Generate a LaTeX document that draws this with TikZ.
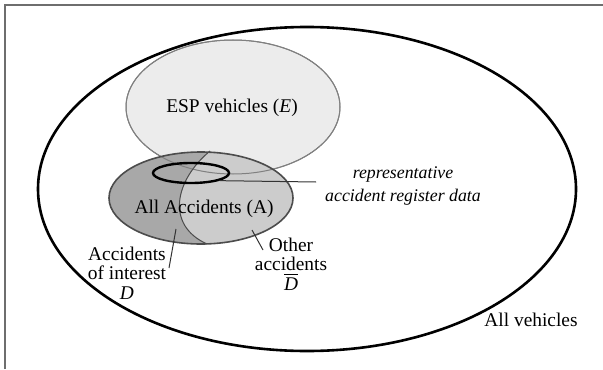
\documentclass[tikz,border=0pt]{standalone}
\usepackage{fontspec}
\setmainfont{Liberation Serif}
\usepackage{tikz}
\usetikzlibrary{shapes.geometric, calc}

\definecolor{espfill}{gray}{0.925}
\definecolor{intfill}{gray}{0.66}
\definecolor{othfill}{gray}{0.8}
\definecolor{framegray}{gray}{0.43}

\tikzstyle{setoval} = [ellipse, inner sep=0pt, draw=gray, line width=0.5pt]
\tikzstyle{lbl} = [inner sep=0pt, align=center, font=\fontsize{9.7}{9.8}\selectfont]
\tikzstyle{leader} = [black!80, line width=0.5pt]

\begin{document}
\begin{tikzpicture}[x=0.5pt, y=-0.5pt]
  \useasboundingbox (0,0) rectangle (603,369);

  % Frame
  \draw[framegray, line width=1pt] (4.5,369) -- (4.5,5.5) -- (603,5.5);

  % Sets
  \node[ellipse, inner sep=0pt, draw, line width=1.3pt, minimum width=269pt, minimum height=162pt] (all) at (307,189) {};
  \node[setoval, fill=espfill, minimum width=107pt, minimum height=67pt] (esp) at (233,107) {};

  % Accidents, split into D and not D
  \begin{scope}
    \clip (201,198) ellipse (46pt and 23pt);
    \fill[othfill] (100,140) rectangle (300,250);
    \fill[intfill] (210,151) .. controls (175,180) and (165,225) .. (207,244) -- (100,250) -- (100,140) -- cycle;
  \end{scope}
  \draw[gray, line width=0.5pt] (esp.center) ellipse (53.5pt and 33.5pt);
  \node[ellipse, inner sep=0pt, draw=black!70, line width=0.8pt, minimum width=92pt, minimum height=46pt] (acc) at (201,198) {};
  \draw[black!70, line width=0.5pt] (210,151) .. controls (175,180) and (165,225) .. (207,244);

  % Register data
  \node[ellipse, inner sep=0pt, draw, line width=1.2pt, minimum width=38pt, minimum height=10pt] (rep) at (191,173) {};

  % Labels
  \node[lbl] (esplbl) at (232,108) {ESP vehicles (\textit{E})};
  \node[lbl] (acclbl) at (204,209) {All Accidents (A)};
  \node[lbl] (alllbl) at (531,320) {All vehicles};
  \node[lbl, font=\fontsize{8.9}{11.5}\selectfont\itshape] (replbl) at (403,186) {representative\\accident register data};
  \node[lbl] (intlbl) at (127,273) {Accidents\\of interest\\\textit{D}};
  \node[lbl] (othlbl) at (291,264) {Other\\accidents\\$\overline{\mbox{\textit{D}}}$};

  % Leaders
  \coordinate (repend) at (316,182);
  \coordinate (inttip) at (176,229);
  \coordinate (intfoot) at (169,268);
  \coordinate (othtip) at (252,230);
  \coordinate (othfoot) at (263,250);
  \draw[leader] (rep.-15) -- (repend);
  \draw[leader] (intfoot) -- (inttip);
  \draw[leader] (othfoot) -- (othtip);

\end{tikzpicture}
\end{document}
